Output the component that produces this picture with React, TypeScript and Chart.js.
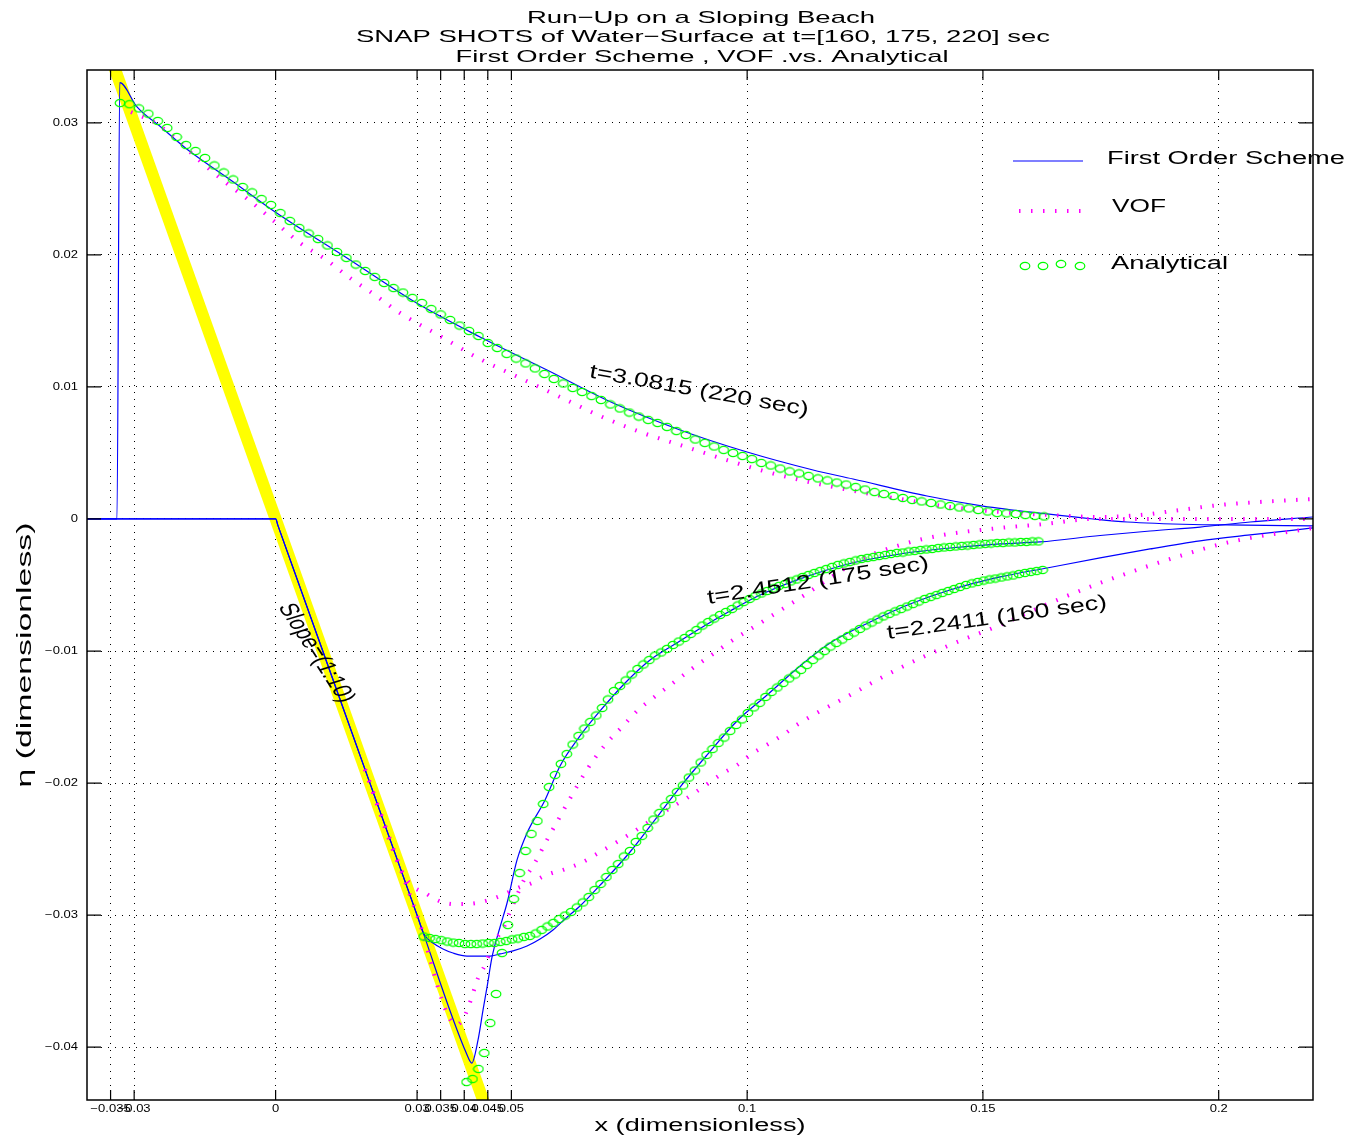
import React, { useEffect, useRef } from 'react';
import { Chart, registerables } from 'chart.js';

Chart.register(...registerables);

// ---------------- DATA ----------------
const xTicks = [-0.035, -0.03, 0, 0.03, 0.035, 0.04, 0.045, 0.05, 0.1, 0.15, 0.2];
const xTickLabels = ['\u22120.035', '\u22120.03', '0', '0.03', '0.035', '0.04', '0.045', '0.05', '0.1', '0.15', '0.2'];
const yTicks = [-0.04, -0.03, -0.02, -0.01, 0, 0.01, 0.02, 0.03];
const yTickLabels = ['\u22120.04', '\u22120.03', '\u22120.02', '\u22120.01', '0', '0.01', '0.02', '0.03'];

const titleLines = [
  'Run\u2212Up on a Sloping Beach',
  'SNAP SHOTS of Water\u2212Surface at t=[160, 175, 220] sec',
  'First Order Scheme , VOF .vs. Analytical',
];
const xAxisTitle = 'x (dimensionless)';
const yAxisTitle = '\u03b7 (dimensionless)';
const legendLabels = ['First Order Scheme', 'VOF', 'Analytical'];
const curveLabels = ['t=3.0815 (220 sec)', 't=2.4512 (175 sec)', 't=2.2411 (160 sec)', 'Slope=(1:10)'];

// beach (slope line)
const beachX = [-0.036, 0.046];
const beachY = [0.036, -0.046];

// First order scheme
const fos220X = [-0.04, -0.03364, -0.03306, -0.0294, -0.02409, -0.01879, -0.00925, 0.0003, 0.01514, 0.02999, 0.04335, 0.05756, 0.07156, 0.08577, 0.09998, 0.11398, 0.12246, 0.13815, 0.15003, 0.1636, 0.17336, 0.18057, 0.19457, 0.20178, 0.22002];
const fos220Y = [0, 0, 0.03304, 0.03121, 0.02961, 0.028, 0.0256, 0.02315, 0.01976, 0.01633, 0.01378, 0.01128, 0.00878, 0.00674, 0.00507, 0.00371, 0.00303, 0.00174, 0.00098, 0.00038, 0, -0.00023, -0.00042, -0.00045, -0.00053];

const fos175X = [-0.04, 0, 0.0005, 0.01, 0.02, 0.03, 0.0405, 0.0416, 0.04293, 0.04399, 0.04484, 0.0459, 0.0476, 0.04908, 0.0512, 0.05332, 0.05714, 0.06032, 0.06456, 0.0688, 0.07411, 0.07941, 0.08471, 0.09001, 0.09637, 0.10274, 0.11122, 0.12182, 0.13243, 0.14303, 0.15364, 0.16212, 0.17485, 0.18545, 0.19605, 0.20666, 0.22002];
const fos175Y = [0, 0, -0.0005, -0.01, -0.02, -0.03, -0.0405, -0.0412, -0.03945, -0.03718, -0.03544, -0.03317, -0.0309, -0.02908, -0.02582, -0.02378, -0.02128, -0.0187, -0.01643, -0.01454, -0.01242, -0.01068, -0.00947, -0.00829, -0.00697, -0.00576, -0.00454, -0.00337, -0.00265, -0.0022, -0.00189, -0.00174, -0.00125, -0.00091, -0.00061, -0.00023, 0.00015];

const fos160X = [-0.04, 0, 0.0005, 0.01, 0.02, 0.03, 0.03141, 0.03338, 0.0355, 0.03762, 0.04059, 0.04271, 0.04547, 0.04759, 0.05035, 0.05332, 0.05608, 0.05883, 0.06138, 0.06456, 0.06944, 0.07516, 0.08089, 0.08577, 0.0915, 0.09786, 0.10422, 0.11122, 0.11758, 0.12607, 0.13455, 0.14303, 0.15364, 0.1636, 0.17485, 0.18545, 0.19605, 0.20666, 0.22002];
const fos160Y = [0, 0, -0.0005, -0.01, -0.02, -0.03, -0.03141, -0.03211, -0.03256, -0.03287, -0.0331, -0.0331, -0.0331, -0.03294, -0.03271, -0.03234, -0.03181, -0.03112, -0.03029, -0.02931, -0.02749, -0.02522, -0.02257, -0.0203, -0.01787, -0.0153, -0.01333, -0.01113, -0.00939, -0.0078, -0.00644, -0.00538, -0.00439, -0.00371, -0.00295, -0.00227, -0.00166, -0.00121, -0.00068];

// VOF
const vof220X = [-0.03067, -0.02558, -0.02134, -0.01603, -0.01073, -0.00543, -0.00013, 0.00517, 0.01048, 0.01578, 0.02108, 0.02638, 0.03487, 0.04335, 0.05183, 0.06032, 0.0688, 0.07728, 0.08577, 0.09425, 0.10274, 0.11122, 0.12394, 0.13243, 0.14303, 0.15364, 0.16424, 0.17485, 0.18333, 0.19181, 0.2003, 0.20878, 0.22002];
const vof220Y = [0.03082, 0.03, 0.02885, 0.02711, 0.02552, 0.02408, 0.02249, 0.0209, 0.01969, 0.01825, 0.01696, 0.0156, 0.01386, 0.01211, 0.01068, 0.00924, 0.0078, 0.00659, 0.0056, 0.00462, 0.00371, 0.00295, 0.00204, 0.00151, 0.00091, 0.00053, 0.0003, 0.00015, 0.0003, 0.00068, 0.00106, 0.00129, 0.00151];

const vof175X = [0.01896, 0.03, 0.0384, 0.0397, 0.04081, 0.04187, 0.04293, 0.04441, 0.04547, 0.04695, 0.04822, 0.04971, 0.05141, 0.05289, 0.05459, 0.05777, 0.05968, 0.06286, 0.06626, 0.06986, 0.07347, 0.07665, 0.08004, 0.08428, 0.08852, 0.09277, 0.09701, 0.1021, 0.11122, 0.12394, 0.13243, 0.14155, 0.15364, 0.16318, 0.17336, 0.22002];
const vof175Y = [-0.01896, -0.03, -0.0383, -0.0379, -0.03703, -0.0359, -0.03476, -0.03378, -0.03279, -0.03173, -0.03105, -0.02976, -0.02832, -0.02719, -0.02628, -0.02416, -0.02294, -0.0209, -0.01886, -0.01711, -0.01575, -0.01454, -0.01356, -0.01242, -0.01128, -0.01022, -0.00916, -0.00803, -0.00598, -0.0031, -0.00197, -0.00121, -0.00068, -0.00038, 0, 0];

const vof160X = [0.01896, 0.02649, 0.02787, 0.02956, 0.03169, 0.03338, 0.03529, 0.03783, 0.04038, 0.04271, 0.04526, 0.04759, 0.05183, 0.05438, 0.0565, 0.05862, 0.06095, 0.06519, 0.0688, 0.07347, 0.07877, 0.08301, 0.08725, 0.09065, 0.09425, 0.09786, 0.10125, 0.10486, 0.10846, 0.11016, 0.12182, 0.13243, 0.14303, 0.15364, 0.16424, 0.17485, 0.18969, 0.20242, 0.22002];
const vof160Y = [-0.01896, -0.02649, -0.02734, -0.02794, -0.02832, -0.0287, -0.02901, -0.02916, -0.02916, -0.02908, -0.02885, -0.02855, -0.02787, -0.02757, -0.02711, -0.02681, -0.02658, -0.02597, -0.02522, -0.02423, -0.02302, -0.02204, -0.02113, -0.0203, -0.01939, -0.01863, -0.01772, -0.01696, -0.01613, -0.01568, -0.01333, -0.01128, -0.00954, -0.00803, -0.00636, -0.00485, -0.00303, -0.00174, -0.00068];

// Analytical
const ana220X = [-0.033, -0.031, -0.029, -0.027, -0.025, -0.023, -0.021, -0.019, -0.017, -0.015, -0.013, -0.011, -0.009, -0.007, -0.005, -0.003, -0.001, 0.001, 0.003, 0.005, 0.007, 0.009, 0.011, 0.013, 0.015, 0.017, 0.019, 0.021, 0.023, 0.025, 0.027, 0.029, 0.031, 0.033, 0.035, 0.037, 0.039, 0.041, 0.043, 0.045, 0.047, 0.049, 0.051, 0.053, 0.055, 0.057, 0.059, 0.061, 0.063, 0.065, 0.067, 0.069, 0.071, 0.073, 0.075, 0.077, 0.079, 0.081, 0.083, 0.085, 0.087, 0.089, 0.091, 0.093, 0.095, 0.097, 0.099, 0.101, 0.103, 0.105, 0.107, 0.109, 0.111, 0.113, 0.115, 0.117, 0.119, 0.121, 0.123, 0.125, 0.127, 0.129, 0.131, 0.133, 0.135, 0.137, 0.139, 0.141, 0.143, 0.145, 0.147, 0.149, 0.151, 0.153, 0.155, 0.157, 0.159, 0.161, 0.163];
const ana220Y = [
  0.0315, 0.03141, 0.03109, 0.03069, 0.03014, 0.02961, 0.02893, 0.02832, 0.02787, 0.02734,
  0.02677, 0.02624, 0.02571, 0.02514, 0.02473, 0.02423, 0.02378, 0.02317, 0.02257, 0.02204,
  0.02162, 0.0212, 0.02071, 0.02022, 0.01977, 0.01927, 0.01878, 0.01833, 0.01787, 0.01749,
  0.01715, 0.01674, 0.01636, 0.0159, 0.01549, 0.01507, 0.01465, 0.01424, 0.01386, 0.01333,
  0.01295, 0.0125, 0.01215, 0.01178, 0.0114, 0.01098, 0.0106, 0.01026, 0.00992, 0.00962,
  0.00931, 0.00901, 0.00867, 0.00837, 0.00806, 0.00776, 0.0075, 0.00727, 0.00697, 0.00666,
  0.00636, 0.00602, 0.00576, 0.00549, 0.00523, 0.005, 0.00477, 0.00454, 0.00424, 0.00405,
  0.00382, 0.0036, 0.00345, 0.00326, 0.00307, 0.00292, 0.00276, 0.00261, 0.00242, 0.00223,
  0.00204, 0.00189, 0.00174, 0.00159, 0.00144, 0.00133, 0.00121, 0.0011, 0.00098, 0.00087,
  0.0008, 0.00068, 0.00057, 0.00045, 0.00042, 0.00038, 0.0003, 0.00023, 0.00019];

const ana175X = [
  0.0405, 0.04175, 0.043, 0.04425, 0.0455, 0.04675, 0.048, 0.04925, 0.0505, 0.05175,
  0.053, 0.05425, 0.0555, 0.05675, 0.058, 0.05925, 0.0605, 0.06175, 0.063, 0.06425,
  0.0655, 0.06675, 0.068, 0.06925, 0.0705, 0.07175, 0.073, 0.07425, 0.0755, 0.07675,
  0.078, 0.07925, 0.0805, 0.08175, 0.083, 0.08425, 0.0855, 0.08675, 0.088, 0.08925,
  0.0905, 0.09175, 0.093, 0.09425, 0.0955, 0.09675, 0.098, 0.09925, 0.1005, 0.10175,
  0.103, 0.10425, 0.1055, 0.10675, 0.108, 0.10925, 0.1105, 0.11175, 0.113, 0.11425,
  0.1155, 0.11675, 0.118, 0.11925, 0.1205, 0.12175, 0.123, 0.12425, 0.1255, 0.12675,
  0.128, 0.12925, 0.1305, 0.13175, 0.133, 0.13425, 0.1355, 0.13675, 0.138, 0.13925,
  0.1405, 0.14175, 0.143, 0.14425, 0.1455, 0.14675, 0.148, 0.14925, 0.1505, 0.15175,
  0.153, 0.15425, 0.1555, 0.15675, 0.158, 0.15925, 0.1605, 0.16175];
const ana175Y = [
  -0.04264, -0.04241, -0.04165, -0.04044, -0.03817, -0.03597, -0.03287, -0.03075, -0.02878, -0.02681,
  -0.02514, -0.02385, -0.02287, -0.02158, -0.0203, -0.01939, -0.01855, -0.0178, -0.01708, -0.01643,
  -0.01587, -0.01537, -0.01488, -0.01431, -0.01367, -0.01303, -0.01265, -0.01223, -0.01178, -0.01136,
  -0.01102, -0.01068, -0.01034, -0.01011, -0.00984, -0.00954, -0.00928, -0.00901, -0.00871, -0.00841,
  -0.00807, -0.0078, -0.00754, -0.00727, -0.00704, -0.00682, -0.00655, -0.00629, -0.00606, -0.00583,
  -0.00564, -0.00545, -0.00526, -0.00507, -0.00492, -0.00473, -0.00458, -0.00439, -0.00424, -0.00409,
  -0.00394, -0.00379, -0.00363, -0.00348, -0.00337, -0.00326, -0.00314, -0.00303, -0.00295, -0.00288,
  -0.0028, -0.00273, -0.00265, -0.00257, -0.00254, -0.00246, -0.00242, -0.00235, -0.00231, -0.00227,
  -0.0022, -0.00216, -0.00212, -0.00208, -0.00204, -0.00201, -0.00197, -0.00193, -0.00189, -0.00186,
  -0.00182, -0.00182, -0.00178, -0.00178, -0.00174, -0.00174, -0.0017, -0.0017];

const ana160X = [
  0.0314, 0.03265, 0.0339, 0.03515, 0.0364, 0.03765, 0.0389, 0.04015, 0.0414, 0.04265,
  0.0439, 0.04515, 0.0464, 0.04765, 0.0489, 0.05015, 0.0514, 0.05265, 0.0539, 0.05515,
  0.0564, 0.05765, 0.0589, 0.06015, 0.0614, 0.06265, 0.0639, 0.06515, 0.0664, 0.06765,
  0.0689, 0.07015, 0.0714, 0.07265, 0.0739, 0.07515, 0.0764, 0.07765, 0.0789, 0.08015,
  0.0814, 0.08265, 0.0839, 0.08515, 0.0864, 0.08765, 0.0889, 0.09015, 0.0914, 0.09265,
  0.0939, 0.09515, 0.0964, 0.09765, 0.0989, 0.10015, 0.1014, 0.10265, 0.1039, 0.10515,
  0.1064, 0.10765, 0.1089, 0.11015, 0.1114, 0.11265, 0.1139, 0.11515, 0.1164, 0.11765,
  0.1189, 0.12015, 0.1214, 0.12265, 0.1239, 0.12515, 0.1264, 0.12765, 0.1289, 0.13015,
  0.1314, 0.13265, 0.1339, 0.13515, 0.1364, 0.13765, 0.1389, 0.14015, 0.1414, 0.14265,
  0.1439, 0.14515, 0.1464, 0.14765, 0.1489, 0.15015, 0.1514, 0.15265, 0.1539, 0.15515,
  0.1564, 0.15765, 0.1589, 0.16015, 0.1614, 0.16265];
const ana160Y = [
  -0.03162, -0.03173, -0.03181, -0.0319, -0.032, -0.03208, -0.03211, -0.03219, -0.03219, -0.03219,
  -0.03215, -0.03211, -0.03211, -0.03203, -0.03196, -0.03184, -0.03177, -0.03165, -0.03158, -0.03139,
  -0.03112, -0.03086, -0.03059, -0.03029, -0.03003, -0.02976, -0.02942, -0.02904, -0.02863, -0.0281,
  -0.02764, -0.02711, -0.02658, -0.02613, -0.02556, -0.02514, -0.02446, -0.02401, -0.0234, -0.02276,
  -0.02226, -0.02173, -0.0212, -0.02067, -0.02018, -0.01958, -0.01905, -0.01844, -0.01787, -0.01742,
  -0.01696, -0.01655, -0.01605, -0.0156, -0.01518, -0.01469, -0.01427, -0.01393, -0.01348, -0.0131,
  -0.01276, -0.01242, -0.01208, -0.01178, -0.01143, -0.01106, -0.01068, -0.01034, -0.01, -0.00966,
  -0.00939, -0.00913, -0.00886, -0.0086, -0.00833, -0.00807, -0.00784, -0.00761, -0.00738, -0.00719,
  -0.007, -0.00682, -0.00663, -0.00644, -0.00625, -0.00606, -0.00591, -0.00576, -0.0056, -0.00545,
  -0.0053, -0.00515, -0.005, -0.00488, -0.00477, -0.00466, -0.00458, -0.00451, -0.00443, -0.00435,
  -0.00428, -0.00417, -0.00409, -0.00401, -0.00394, -0.00386];

// ---------------- STYLE / LAYOUT ----------------
const W = 1365;
const H = 1140;
const FONT = '"Liberation Sans", Arial, Helvetica, sans-serif';
const BLUE = '#0000ff';
const MAGENTA = '#ff00ff';
const GREEN = '#00ff00';
const YELLOW = '#ffff00';
const VOF_DASH = [1.5, 10.5];
const STRETCH = 1.45;
const TICK_FONT = 10;
const TICK_STRETCH = 1.3;

const toPts = (xs: number[], ys: number[]) => xs.map((x, i) => ({ x, y: ys[i] }));

// text fitted to a measured length along its own baseline
function drawText(
  ctx: CanvasRenderingContext2D,
  text: string,
  x: number,
  y: number,
  size: number,
  width: number,
  angleDeg: number,
  align: CanvasTextAlign = 'center'
) {
  ctx.save();
  ctx.font = `${size}px ${FONT}`;
  const w = ctx.measureText(text).width || 1;
  const sx = width / w;
  ctx.translate(x, y);
  ctx.rotate((angleDeg * Math.PI) / 180);
  ctx.scale(sx, 1);
  ctx.textAlign = align;
  ctx.textBaseline = 'middle';
  ctx.fillStyle = '#000';
  ctx.fillText(text, 0, 0);
  ctx.restore();
}

// text rotated, then stretched horizontally on screen
function drawStretched(
  ctx: CanvasRenderingContext2D,
  text: string,
  x: number,
  y: number,
  size: number,
  angleDeg: number,
  sx: number,
  align: CanvasTextAlign = 'center'
) {
  ctx.save();
  ctx.font = `${size}px ${FONT}`;
  ctx.translate(x, y);
  ctx.scale(sx, 1);
  ctx.rotate((angleDeg * Math.PI) / 180);
  ctx.textAlign = align;
  ctx.textBaseline = 'middle';
  ctx.fillStyle = '#000';
  ctx.fillText(text, 0, 0);
  ctx.restore();
}

function makeEllipse(): HTMLCanvasElement {
  const c = document.createElement('canvas');
  c.width = 12;
  c.height = 10;
  const g = c.getContext('2d')!;
  g.strokeStyle = GREEN;
  g.lineWidth = 1.2;
  g.beginPath();
  g.ellipse(6, 5, 4.8, 3.6, 0, 0, Math.PI * 2);
  g.stroke();
  return c;
}

export default function App() {
  const ref = useRef<HTMLCanvasElement>(null);

  useEffect(() => {
    const canvas = ref.current;
    if (!canvas) return;
    const marker = makeEllipse();

    const decor = {
      id: 'decor',
      beforeDraw(chart: any) {
        const ctx = chart.ctx as CanvasRenderingContext2D;
        ctx.save();
        ctx.fillStyle = '#fff';
        ctx.fillRect(0, 0, chart.width, chart.height);
        ctx.restore();
      },
      afterDraw(chart: any) {
        const ctx = chart.ctx as CanvasRenderingContext2D;
        const { left, right, top, bottom } = chart.chartArea;
        const xs = chart.scales.x;
        const ys = chart.scales.y;

        // frame
        ctx.save();
        ctx.strokeStyle = '#000';
        ctx.lineWidth = 1.5;
        ctx.strokeRect(left, top, right - left, bottom - top);
        // inward ticks
        ctx.lineWidth = 1.2;
        ctx.beginPath();
        xTicks.forEach((v) => {
          const px = xs.getPixelForValue(v);
          ctx.moveTo(px, bottom);
          ctx.lineTo(px, bottom - 10);
          ctx.moveTo(px, top);
          ctx.lineTo(px, top + 10);
        });
        yTicks.forEach((v) => {
          const py = ys.getPixelForValue(v);
          ctx.moveTo(left, py);
          ctx.lineTo(left + 14, py);
          ctx.moveTo(right, py);
          ctx.lineTo(right - 14, py);
        });
        ctx.stroke();
        ctx.restore();

        // tick labels
        xTicks.forEach((v, i) => drawStretched(ctx, xTickLabels[i], xs.getPixelForValue(v), bottom + 9.5, TICK_FONT, 0, TICK_STRETCH, 'center'));
        yTicks.forEach((v, i) => drawStretched(ctx, yTickLabels[i], left - 9, ys.getPixelForValue(v), TICK_FONT, 0, TICK_STRETCH, 'right'));

        // titles
        drawText(ctx, titleLines[0], 701, 18, 17, 348, 0);
        drawText(ctx, titleLines[1], 703, 37, 17, 694, 0);
        drawText(ctx, titleLines[2], 702, 57, 17, 493, 0);

        // axis titles
        drawText(ctx, xAxisTitle, 700, 1126, 18, 211, 0);
        drawText(ctx, yAxisTitle, 25, 655, 20, 265, -90);

        // curve annotations
        drawText(ctx, curveLabels[0], 699, 391, 20, 222, 10);
        drawText(ctx, curveLabels[1], 818, 581, 20, 224, -9);
        drawText(ctx, curveLabels[2], 997, 618, 20, 222, -8);
        drawStretched(ctx, curveLabels[3], 316, 653, 18.5, 66, STRETCH, 'center');

        // legend
        ctx.save();
        ctx.strokeStyle = BLUE;
        ctx.lineWidth = 1.2;
        ctx.beginPath();
        ctx.moveTo(1013, 161);
        ctx.lineTo(1083, 161);
        ctx.stroke();
        ctx.strokeStyle = MAGENTA;
        ctx.lineWidth = 4;
        ctx.setLineDash(VOF_DASH);
        ctx.beginPath();
        ctx.moveTo(1019, 211);
        ctx.lineTo(1085, 211);
        ctx.stroke();
        ctx.setLineDash([]);
        [[1025, 266], [1043, 266], [1061, 264], [1080, 266]].forEach(([cx, cy]) => {
          ctx.drawImage(marker, cx - marker.width / 2, cy - marker.height / 2);
        });
        ctx.restore();
        drawText(ctx, legendLabels[0], 1107, 159, 17.5, 238, 0, 'left');
        drawText(ctx, legendLabels[1], 1112, 207, 17.5, 54, 0, 'left');
        drawText(ctx, legendLabels[2], 1111, 264, 17.5, 117, 0, 'left');
      },
    };

    const lineBase = {
      showLine: true,
      pointRadius: 0,
      pointHoverRadius: 0,
      fill: false,
      clip: 0,
      cubicInterpolationMode: 'monotone' as const,
    };
    const vofStyle = {
      ...lineBase,
      borderColor: MAGENTA,
      borderWidth: 4,
      borderDash: VOF_DASH,
      borderCapStyle: 'butt' as const,
      order: 3,
    };
    const fosStyle = { ...lineBase, borderColor: BLUE, borderWidth: 1.2, order: 4 };
    const anaStyle = {
      showLine: false,
      pointStyle: marker,
      pointRadius: 4,
      pointHoverRadius: 4,
      clip: 0,
      order: 2,
    };

    const chart = new Chart(canvas, {
      type: 'scatter',
      data: {
        datasets: [
          { label: 'beach', data: toPts(beachX, beachY), ...lineBase, borderColor: YELLOW, borderWidth: 12, borderCapStyle: 'butt', cubicInterpolationMode: 'default', tension: 0, order: 10 } as any,
          { label: 'FOS 220', data: toPts(fos220X, fos220Y), ...fosStyle } as any,
          { label: 'FOS 175', data: toPts(fos175X, fos175Y), ...fosStyle } as any,
          { label: 'FOS 160', data: toPts(fos160X, fos160Y), ...fosStyle } as any,
          { label: 'VOF 220', data: toPts(vof220X, vof220Y), ...vofStyle } as any,
          { label: 'VOF 175', data: toPts(vof175X, vof175Y), ...vofStyle } as any,
          { label: 'VOF 160', data: toPts(vof160X, vof160Y), ...vofStyle } as any,
          { label: 'Analytical 220', data: toPts(ana220X, ana220Y), ...anaStyle } as any,
          { label: 'Analytical 175', data: toPts(ana175X, ana175Y), ...anaStyle } as any,
          { label: 'Analytical 160', data: toPts(ana160X, ana160Y), ...anaStyle } as any,
        ],
      },
      options: {
        responsive: false,
        animation: false,
        devicePixelRatio: 1,
        events: [],
        layout: { padding: { left: 87, top: 70, right: 52, bottom: 40 } },
        plugins: {
          legend: { display: false },
          title: { display: false },
          tooltip: { enabled: false },
        },
        scales: {
          x: {
            type: 'linear',
            min: -0.04,
            max: 0.22,
            afterBuildTicks: (s: any) => {
              s.ticks = xTicks.map((v) => ({ value: v }));
            },
            afterFit: (s: any) => {
              s.height = 0;
            },
            ticks: { display: false },
            grid: { color: '#000', lineWidth: 1, drawTicks: false },
            border: { display: false, dash: [1, 6] },
          },
          y: {
            type: 'linear',
            min: -0.044,
            max: 0.034,
            afterBuildTicks: (s: any) => {
              s.ticks = yTicks.map((v) => ({ value: v }));
            },
            afterFit: (s: any) => {
              s.width = 0;
            },
            ticks: { display: false },
            grid: { color: '#000', lineWidth: 1, drawTicks: false },
            border: { display: false, dash: [1, 6] },
          },
        },
      } as any,
      plugins: [decor],
    });

    return () => chart.destroy();
  }, []);

  return (
    <div style={{ position: 'absolute', left: 0, top: 0, width: W, height: H, background: '#fff' }}>
      <canvas ref={ref} width={W} height={H} style={{ display: 'block', width: W, height: H }} />
    </div>
  );
}
